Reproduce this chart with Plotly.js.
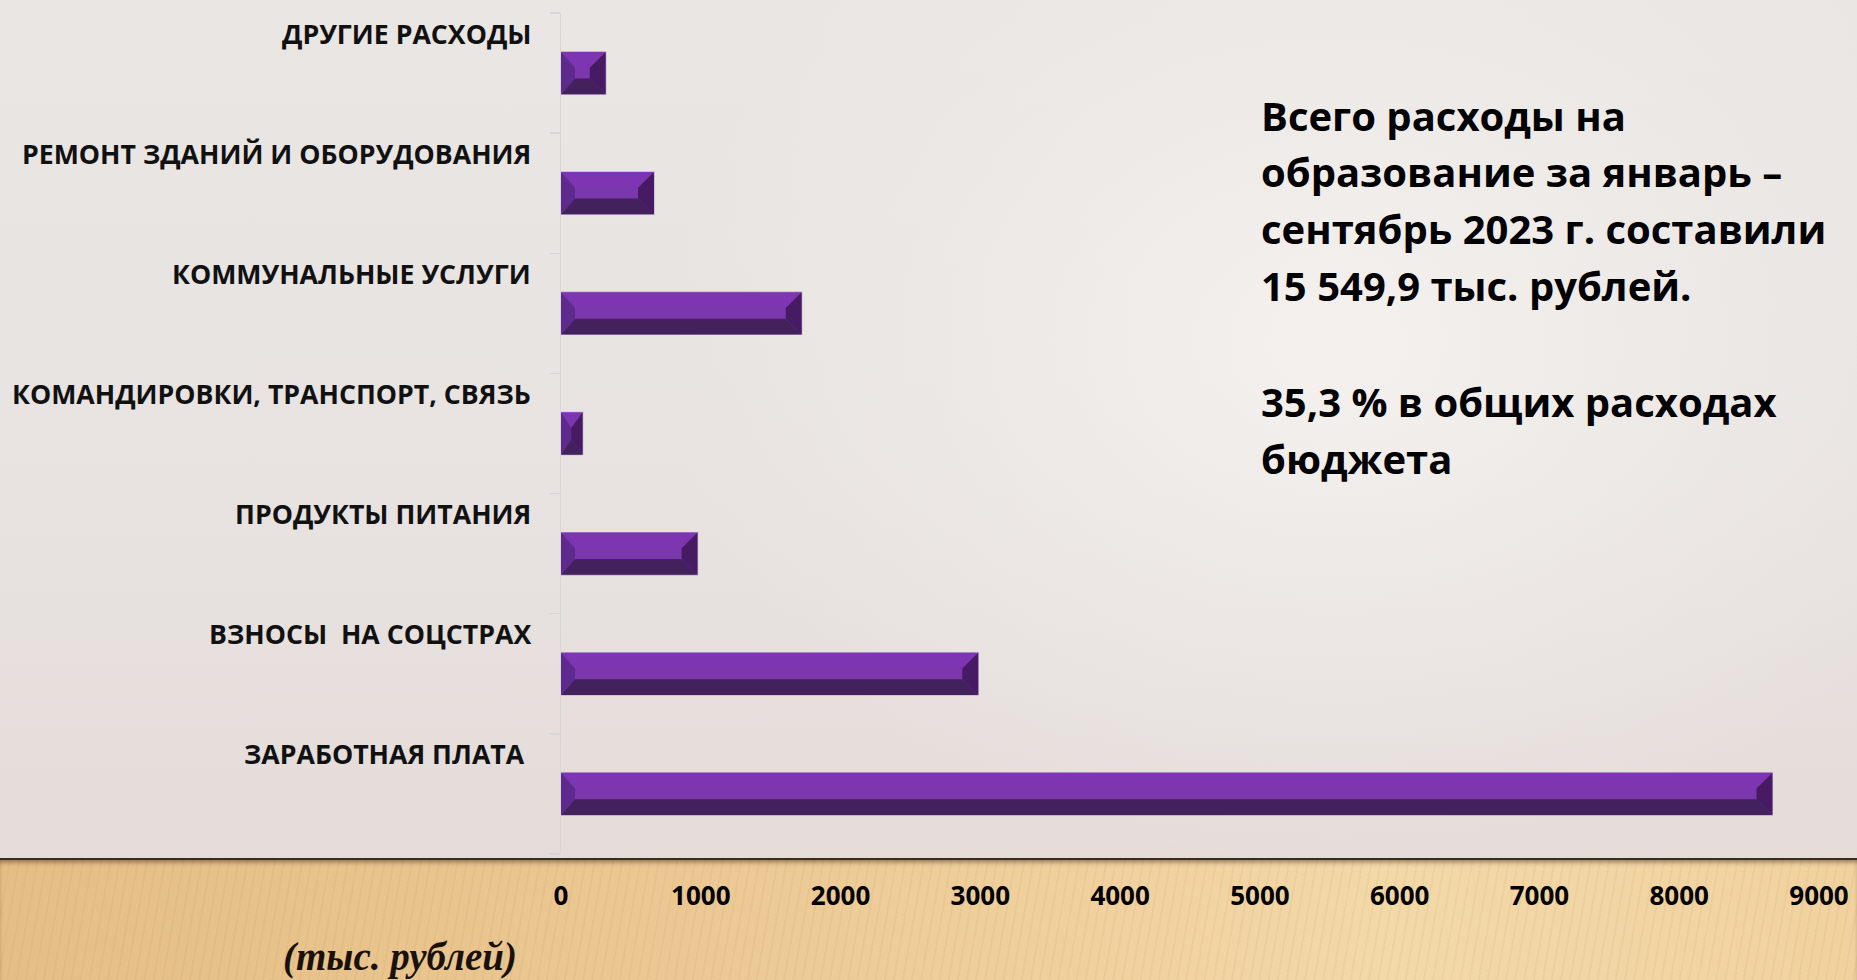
<!DOCTYPE html>
<html>
<head>
<meta charset="utf-8">
<script src="https://cdn.plot.ly/plotly-3.0.1.min.js"></script>
<style>
  html, body { margin: 0; padding: 0; width: 1857px; height: 980px; overflow: hidden; }
  #bgTop {
    position: absolute; left: 0; top: 0; width: 1857px; height: 858px;
    background:
      radial-gradient(ellipse 900px 700px at 72% 40%, rgba(245,242,240,0.9) 0%, rgba(240,236,234,0.5) 45%, rgba(0,0,0,0) 75%),
      linear-gradient(to bottom, #E9E6E4 0%, #E8E3E1 55%, #E4DCD9 100%);
  }
  #bgWood {
    position: absolute; left: 0; top: 858px; width: 1857px; height: 122px;
    background:
      repeating-linear-gradient(100deg, rgba(160,110,50,0.06) 0px, rgba(160,110,50,0.06) 2px, rgba(255,255,255,0) 2px, rgba(255,255,255,0) 9px),
      linear-gradient(to right, #E5BE86 0%, #EAC690 30%, #EFCF9C 55%, #F3D8A8 75%, #F0D29F 100%);
    border-top: 2px solid #3A2C20;
    box-shadow: inset 0 4px 5px -2px rgba(60,40,20,0.55);
  }
  #chart { position: absolute; left: 0; top: 0; width: 1857px; height: 980px; }
</style>
</head>
<body>
<div id="bgTop"></div>
<div id="bgWood"></div>
<div id="chart"></div>
<script>
// ---- data (top-level arrays) ----
const categories = [
  "ЗАРАБОТНАЯ ПЛАТА\u00A0",
  "ВЗНОСЫ\u00A0 НА СОЦСТРАХ",
  "ПРОДУКТЫ ПИТАНИЯ",
  "КОМАНДИРОВКИ, ТРАНСПОРТ, СВЯЗЬ",
  "КОММУНАЛЬНЫЕ УСЛУГИ",
  "РЕМОНТ ЗДАНИЙ И ОБОРУДОВАНИЯ",
  "ДРУГИЕ РАСХОДЫ"
];
const values = [8667, 2985, 977, 155, 1722, 665, 320];
const xTickValues = [0, 1000, 2000, 3000, 4000, 5000, 6000, 7000, 8000, 9000];
const noteLines = [
  "Всего расходы на",
  "образование за январь –",
  "сентябрь 2023 г. составили",
  "15 549,9 тыс. рублей.",
  "35,3 % в общих расходах",
  "бюджета"
];
const unitLabel = "(тыс. рублей)";

// ---- style ----
const BAR_H = 0.352;
const BEV_L = 100, BEV_R = 114;
const BEV_Y = 0.131;
const FACE = "#7A38AC", TOPB = "#7D35B2", LEFTB = "#5F2A8D", RIGHTB = "#471B64", BOTB = "#43215D";

const pos = categories.map((c, i) => i);

const traces = [];
traces.push({
  type: "bar", orientation: "h",
  x: values, y: pos, width: BAR_H,
  marker: { color: FACE, line: { color: "#B8A4CC", width: 1.2 } },
  hoverinfo: "skip", showlegend: false
});

function bevelTrace(color, polyFn) {
  const xs = [], ys = [];
  values.forEach((v, i) => {
    const c = pos[i];
    const top = c + BAR_H / 2, bot = c - BAR_H / 2;
    let bl = BEV_L, br = BEV_R;
    if (bl + br > v) { const k = v / (bl + br); bl *= k; br *= k; }
    const pts = polyFn(v, top, bot, bl, br);
    pts.forEach(p => { xs.push(p[0]); ys.push(p[1]); });
    xs.push(pts[0][0]); ys.push(pts[0][1]);
    xs.push(null); ys.push(null);
  });
  return { type: "scatter", mode: "lines", x: xs, y: ys, fill: "toself",
           fillcolor: color, line: { width: 0, color: color },
           hoverinfo: "skip", showlegend: false };
}
traces.push(bevelTrace(TOPB, (v, t, b, bl, br) => [[0, t], [bl, t - BEV_Y], [v - br, t - BEV_Y], [v, t]]));
traces.push(bevelTrace(BOTB, (v, t, b, bl, br) => [[0, b], [bl, b + BEV_Y], [v - br, b + BEV_Y], [v, b]]));
traces.push(bevelTrace(LEFTB, (v, t, b, bl, br) => [[0, t], [bl, t - BEV_Y], [bl, b + BEV_Y], [0, b]]));
traces.push(bevelTrace(RIGHTB, (v, t, b, bl, br) => [[v, t], [v - br, t - BEV_Y], [v - br, b + BEV_Y], [v, b]]));

const annotations = [];
categories.forEach((c, i) => {
  annotations.push({
    text: c, xref: "paper", yref: "y", x: -0.0222, y: pos[i],
    xanchor: "right", yanchor: "middle", yshift: 40, showarrow: false,
    font: { family: "Open Sans", size: 26.7, color: "#111111", weight: 700 }
  });
});
const noteY = [0.8785, 0.8110, 0.7434, 0.6759, 0.5379, 0.4703];
noteLines.forEach((t, i) => {
  annotations.push({
    text: t, xref: "paper", yref: "paper", x: 0.5549, y: noteY[i],
    xanchor: "left", yanchor: "middle", showarrow: false,
    font: { family: "Open Sans", size: 40, color: "#000000", weight: 700 }
  });
});
annotations.push({
  text: "<i>" + unitLabel + "</i>", xref: "paper", yref: "paper", x: -0.128, y: -0.1224,
  xanchor: "center", yanchor: "middle", showarrow: false,
  font: { family: "Liberation Serif", size: 39, color: "#1a1208", weight: 700 }
});

const layout = {
  width: 1857, height: 980, autosize: false,
  paper_bgcolor: "rgba(0,0,0,0)", plot_bgcolor: "rgba(0,0,0,0)",
  margin: { l: 561, r: 38, t: 13, b: 126, pad: 0 },
  showlegend: false,
  xaxis: {
    range: [0, 9000], tickvals: xTickValues, ticktext: xTickValues.map(String),
    showgrid: false, zeroline: false, showline: false, ticks: "",
    ticklabelstandoff: 24,
    tickfont: { family: "Open Sans", size: 26, color: "#000000", weight: 700 },
    fixedrange: true
  },
  yaxis: {
    range: [-0.5, categories.length - 0.5],
    tickvals: pos.map(p => p - 0.5).concat([categories.length - 0.5]),
    showticklabels: false, ticks: "outside", ticklen: 10, tickwidth: 1.5, tickcolor: "#D6D6D6",
    showgrid: false, zeroline: false, showline: true, linecolor: "#D6D6D6", linewidth: 1.5,
    fixedrange: true
  },
  annotations: annotations
};

Plotly.newPlot("chart", traces, layout, { displayModeBar: false, staticPlot: true });
</script>
</body>
</html>
